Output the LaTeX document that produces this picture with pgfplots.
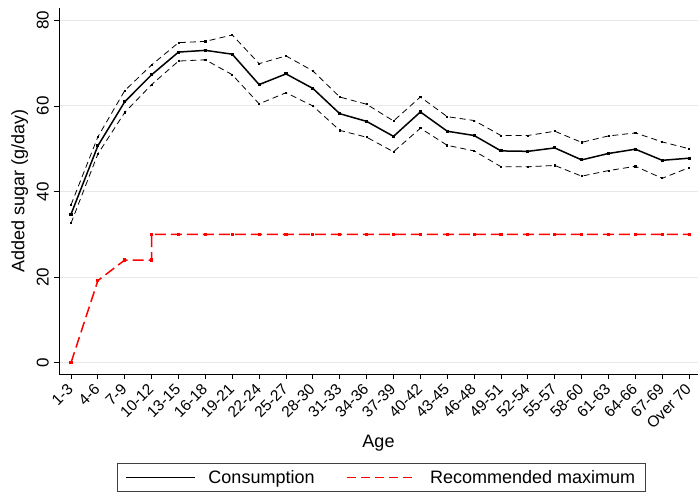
\documentclass[border=0pt]{standalone}
\usepackage{pgfplots}
\pgfplotsset{compat=1.18}
\usepackage{fontspec}
\setmainfont{Liberation Sans}

\begin{document}
\begin{tikzpicture}
\path[use as bounding box] (-59pt,-122pt) rectangle (639pt,374pt);
\begin{axis}[
  at={(0,0)}, anchor=south west,
  width=639pt, height=366pt, scale only axis,
  xmin=-0.447, xmax=23.33, ymin=-2.64, ymax=82.9,
  axis x line*=bottom, axis y line*=left,
  axis line style={-, line width=0.9pt, black},
  tick align=outside, major tick length=5pt,
  tick style={line width=0.9pt, black},
  ytick={0,20,40,60,80},
  xtick={0,...,23},
  xticklabels={1-3,4-6,7-9,10-12,13-15,16-18,19-21,22-24,25-27,28-30,31-33,34-36,37-39,40-42,43-45,46-48,49-51,52-54,55-57,58-60,61-63,64-66,67-69,Over 70},
  x tick label style={font=\fontsize{15.5}{18}\selectfont, rotate=45, anchor=east, inner sep=1pt, xshift=-5pt, yshift=-5pt},
  y tick label style={font=\fontsize{17}{20}\selectfont, rotate=90, anchor=south, inner sep=5pt},
  /pgf/number format/assume math mode=true,
  ymajorgrids, grid style={line width=1pt, black!9},
  xlabel={Age}, ylabel={Added sugar (g/day)},
  label style={font=\fontsize{18}{21}\selectfont},
  legend columns=2,
  legend style={at={(0.504,-0.243)}, anchor=north, draw=black!75, line width=0.8pt,
    font=\fontsize{18}{21}\selectfont, inner xsep=8pt, inner ysep=5pt,
    /tikz/every odd column/.append style={column sep=11pt},
    /tikz/every even column/.append style={column sep=30pt}},
]
% 95% confidence band (upper)
\addplot[black, draw=black, line width=0.8pt, dash pattern=on 6pt off 4pt, mark=square*, mark size=0.6pt, mark options={solid}, forget plot] coordinates {
(0,36.9) (1,52.8) (2,63.6) (3,69.6) (4,74.8) (5,75.1) (6,76.6) (7,69.9) (8,71.7) (9,68.2) (10,62.1) (11,60.4) (12,56.5) (13,62.1) (14,57.5) (15,56.6) (16,53.1) (17,53.1) (18,54.1) (19,51.5) (20,53.0) (21,53.7) (22,51.6) (23,50.0)};
% 95% confidence band (lower)
\addplot[black, draw=black, line width=0.8pt, dash pattern=on 6pt off 4pt, mark=square*, mark size=0.6pt, mark options={solid}, forget plot] coordinates {
(0,32.6) (1,48.8) (2,58.5) (3,65.0) (4,70.5) (5,70.8) (6,67.3) (7,60.5) (8,63.1) (9,60.0) (10,54.3) (11,52.7) (12,49.3) (13,54.8) (14,50.8) (15,49.5) (16,45.8) (17,45.8) (18,46.1) (19,43.6) (20,44.9) (21,45.9) (22,43.1) (23,45.6)};
% mean consumption
\addplot[black, draw=black, line width=1.5pt, mark=square*, mark size=0.8pt,
  legend image code/.code={\draw[draw=black, line width=1.5pt] (0pt,0pt) -- (69pt,0pt);}] coordinates {
(0,34.7) (1,50.7) (2,61.0) (3,67.3) (4,72.6) (5,73.0) (6,72.1) (7,65.0) (8,67.5) (9,64.1) (10,58.2) (11,56.4) (12,52.9) (13,58.6) (14,54.1) (15,53.1) (16,49.5) (17,49.4) (18,50.2) (19,47.4) (20,48.9) (21,49.9) (22,47.3) (23,47.8)};
\addlegendentry{Consumption}
% recommended maximum intake
\addplot[red, draw=red, line width=1.5pt, dash pattern=on 11pt off 5pt, mark=square*, mark size=0.8pt, mark options={solid},
  legend image code/.code={\draw[draw=red, line width=1.5pt, dash pattern=on 9pt off 5pt] (0pt,0pt) -- (69pt,0pt);}] coordinates {
(0,0) (1,19.2) (2,24) (3,24) (3,30) (4,30) (5,30) (6,30) (7,30) (8,30) (9,30) (10,30) (11,30) (12,30) (13,30) (14,30) (15,30) (16,30) (17,30) (18,30) (19,30) (20,30) (21,30) (22,30) (23,30)};
\addlegendentry{Recommended maximum}
\end{axis}
\end{tikzpicture}
\end{document}
